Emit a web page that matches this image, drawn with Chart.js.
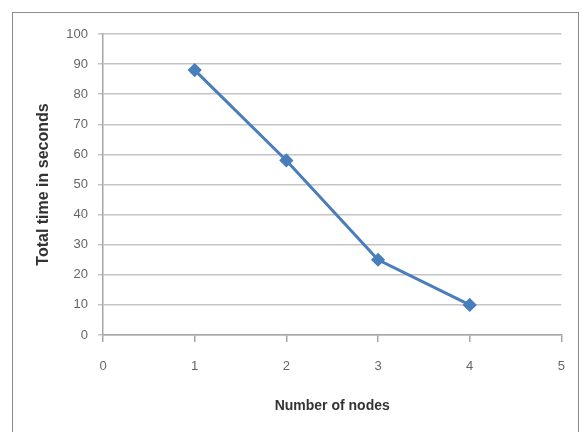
<!DOCTYPE html>
<html>
<head>
<meta charset="utf-8">
<script src="https://cdn.jsdelivr.net/npm/chart.js"></script>
<style>
  body { margin: 0; background: #fff; }
  #frame { position: absolute; left: 12px; top: 12px; width: 565px; height: 440px;
           border: 1.5px solid #8c8c8c; background: #fff; }
  #wrap { position: absolute; left: 0; top: 0; width: 582px; height: 432px; }
</style>
</head>
<body>
<div id="frame"></div>
<div id="wrap"><canvas id="nodes_chart"></canvas></div>
<script>
/*_____________________DATA____________________*/

const nodes = [1, 2, 3, 4];
const total_time = [88, 58, 25, 10];
const x_ticks = [0, 1, 2, 3, 4, 5];
const y_ticks = [0, 10, 20, 30, 40, 50, 60, 70, 80, 90, 100];

const points = nodes.map((n, i) => ({ x: n, y: total_time[i] }));

/*_____________________CHART____________________*/

const nodes_chart = document.getElementById('nodes_chart');
new Chart(nodes_chart, {
  type: 'scatter',
  data: {
    datasets: [
      {
        label: 'Total time',
        data: points,
        showLine: true,
        borderColor: '#4a7ebb',
        backgroundColor: '#4a7ebb',
        borderWidth: 3,
        pointStyle: 'rectRot',
        pointRadius: 5,
        pointHoverRadius: 5
      }
    ]
  },
  options: {
    responsive: true,
    maintainAspectRatio: false,
    animation: false,
    layout: { padding: { top: 34, right: 19, left: 0, bottom: 0 } },
    plugins: { legend: { display: false }, tooltip: { enabled: false } },
    scales: {
      x: {
        type: 'linear',
        min: x_ticks[0],
        max: x_ticks[x_ticks.length - 1],
        afterBuildTicks: (scale) => { scale.ticks = x_ticks.map(v => ({ value: v })); },
        afterFit: (scale) => { scale.height = 97; },
        grid: { drawOnChartArea: false, drawTicks: true, tickLength: 7, color: '#a6a6a6', lineWidth: 1.5 },
        border: { color: '#a6a6a6', width: 1.5 },
        ticks: { color: '#666', padding: 17, font: { family: 'Liberation Sans', size: 13 } },
        title: {
          display: true,
          text: 'Number of nodes',
          color: '#333',
          padding: { top: 0, bottom: 17 },
          font: { family: 'Liberation Sans Narrow, Liberation Sans', size: 14, weight: 'bold' }
        }
      },
      y: {
        min: y_ticks[0],
        max: y_ticks[y_ticks.length - 1],
        afterBuildTicks: (scale) => { scale.ticks = y_ticks.map(v => ({ value: v })); },
        afterFit: (scale) => { scale.width = 103; },
        grid: { color: '#c4c4c4', lineWidth: 1.5, tickLength: 5 },
        border: { color: '#a6a6a6', width: 1.5 },
        ticks: { color: '#666', padding: 10, font: { family: 'Liberation Sans', size: 13 } },
        title: {
          display: true,
          text: 'Total time in seconds',
          color: '#333',
          padding: { top: 34, bottom: 0 },
          font: { family: 'Liberation Sans', size: 16, weight: 'bold' }
        }
      }
    }
  }
});
</script>
</body>
</html>
